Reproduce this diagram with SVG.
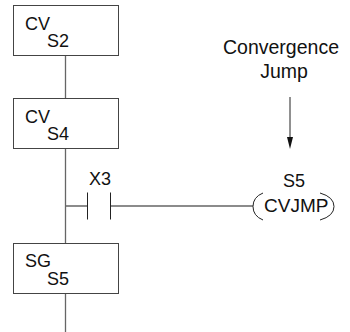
<svg xmlns="http://www.w3.org/2000/svg" width="350" height="332" viewBox="0 0 350 332">
<style>
text{font-family:"Liberation Sans",Arial,sans-serif;font-size:18px;fill:#111}
.l{font-size:19.5px}
.b{fill:#fff;stroke:#444;stroke-width:1}
.w{fill:none;stroke:#666;stroke-width:1.3}
.k{fill:none;stroke:#222;stroke-width:1}
</style>
<g id="connectors">
<path class="w" d="M65.500 55V99M65.500 148V244M65.500 293V332M65.500 206H87M110.500 206H253"/>
<path class="k" d="M87.500 192.500V219.500M110.500 192.500V219.500"/>
<path class="k" d="M290 97V137"/>
<path d="M287 137H293L290 149Z" fill="#111"/>
</g>
<g id="s2"><rect class="b" x="13.500" y="5.500" width="105" height="50"/><text x="25" y="30">CV</text><text x="47" y="47">S2</text></g>
<g id="s4"><rect class="b" x="13.500" y="98.500" width="105" height="50"/><text x="25" y="123">CV</text><text x="47" y="140">S4</text></g>
<g id="s5"><rect class="b" x="13.500" y="243.500" width="105" height="50"/><text x="25" y="267">SG</text><text x="47" y="285">S5</text></g>
<g id="x3"><text x="89" y="185">X3</text></g>
<g id="label"><text class="l" x="281" y="54" text-anchor="middle">Convergence</text><text class="l" x="284" y="78" text-anchor="middle">Jump</text></g>
<g id="cvjmp"><text x="283" y="187">S5</text><text x="264" y="212" style="font-size:19px">CVJMP</text>
<path class="k" d="M263 193Q253 197 253 206.500Q253 216 263 220M320 193Q334 197 334 206.500Q334 216 320 220"/></g>
</svg>
